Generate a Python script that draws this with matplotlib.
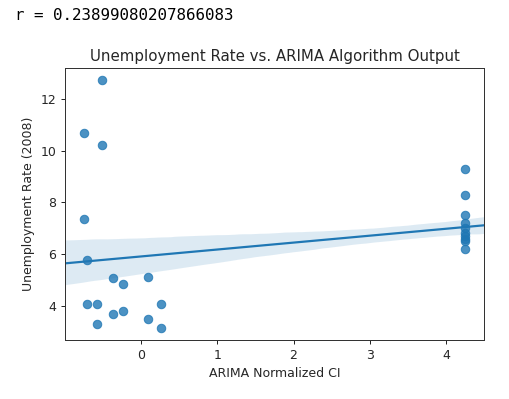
import matplotlib
matplotlib.use("Agg")
import matplotlib.pyplot as plt
import seaborn as sns
import numpy as np

arima_ci = [-0.517, -0.75, -0.517, -0.75, -0.715, -0.37, -0.236, 0.088,
            -0.715, -0.58, 0.254, -0.37, -0.236, -0.58, 0.088, 0.254,
            4.25, 4.25, 4.25, 4.25, 4.25, 4.25, 4.25, 4.25, 4.25, 4.25]
unemployment = [12.71, 10.69, 10.2, 7.36, 5.76, 5.09, 4.85, 5.13,
                4.07, 4.07, 4.07, 3.67, 3.79, 3.29, 3.49, 3.16,
                9.3, 8.3, 7.5, 7.2, 7.0, 6.8, 6.7, 6.6, 6.5, 6.2]
r_text = "r = 0.23899080207866083"

W, H = 509, 399
fig = plt.figure(figsize=(W / 72, H / 72), dpi=72)
ax = fig.add_axes([65 / W, 1 - 340 / H, (484 - 65) / W, (340 - 68) / H])

sns.regplot(x=np.array(arima_ci), y=np.array(unemployment), ax=ax,
            truncate=False, seed=0, ci=68,
            scatter_kws={"s": 72}, line_kws={"lw": 2.2})

tc = "#262626"
ax.set_title("Unemployment Rate vs. ARIMA Algorithm Output", fontsize=15, color=tc, pad=7)
ax.set_xlabel("ARIMA Normalized CI", fontsize=12.5, color=tc, labelpad=5)
ax.set_ylabel("Unemployment Rate (2008)", fontsize=12.5, color=tc, labelpad=5)
ax.tick_params(labelsize=12.5, colors=tc, length=4.4, width=1.0, pad=4.4)
ax.set_xticks([0, 1, 2, 3, 4])
ax.set_yticks([4, 6, 8, 10, 12])
for s in ax.spines.values():
    s.set_linewidth(1.0)
    s.set_color("#333333")

fig.text(15 / W, 1 - 15 / H, r_text, family="DejaVu Sans Mono", fontsize=15.9,
         va="center", ha="left", color="black")

fig.savefig("out.png", dpi=72)
